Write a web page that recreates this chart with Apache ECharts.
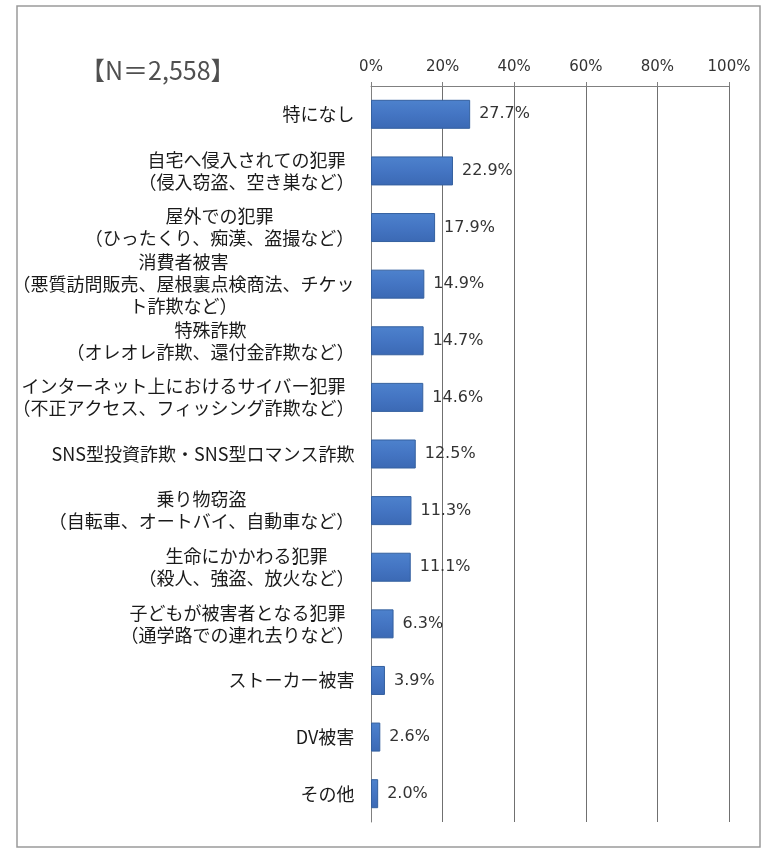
<!DOCTYPE html>
<html>
<head>
<meta charset="utf-8">
<script src="https://cdn.jsdelivr.net/npm/echarts@6/dist/echarts.min.js"></script>
<style>
html,body{margin:0;padding:0;background:#fff;}
#chart{width:764px;height:850px;}
</style>
</head>
<body>
<div id="chart"></div>
<script>
const categories = [
  '特になし',
  '自宅へ侵入されての犯罪\n（侵入窃盗、空き巣など）',
  '屋外での犯罪\n（ひったくり、痴漢、盗撮など）',
  '消費者被害\n（悪質訪問販売、屋根裏点検商法、チケッ\nト詐欺など）',
  '特殊詐欺\n（オレオレ詐欺、還付金詐欺など）',
  'インターネット上におけるサイバー犯罪\n（不正アクセス、フィッシング詐欺など）',
  'SNS型投資詐欺・SNS型ロマンス詐欺',
  '乗り物窃盗\n（自転車、オートバイ、自動車など）',
  '生命にかかわる犯罪\n（殺人、強盗、放火など）',
  '子どもが被害者となる犯罪\n（通学路での連れ去りなど）',
  'ストーカー被害',
  'DV被害',
  'その他'
];
const values = [27.7, 22.9, 17.9, 14.9, 14.7, 14.6, 12.5, 11.3, 11.1, 6.3, 3.9, 2.6, 2.0];
const xTicks = [0, 20, 40, 60, 80, 100];
const sampleLabel = '【N＝2,558】';

const catFont = '18px "Noto Sans CJK JP"';
const cv = document.createElement('canvas').getContext('2d');
cv.font = catFont;
const rich = {};
categories.forEach((c, i) => {
  const w = Math.max(...c.split('\n').map(l => cv.measureText(l).width));
  rich['c' + i] = {
    width: Math.ceil(w) + 1,
    align: 'center',
    fontSize: 18,
    lineHeight: 22,
    fontFamily: 'Noto Sans CJK JP',
    color: '#1a1a1a'
  };
});

const chart = echarts.init(document.getElementById('chart'), null, {renderer: 'canvas'});
chart.setOption({
  animation: false,
  backgroundColor: '#fff',
  graphic: [
    {
      type: 'rect',
      shape: {x: 17, y: 6, width: 743, height: 841},
      style: {fill: 'none', stroke: '#9a9a9a', lineWidth: 1.5},
      silent: true
    },
    {
      type: 'text',
      left: 80,
      top: 58,
      style: {
        text: sampleLabel,
        font: '25px "Noto Sans CJK JP"',
        fill: '#505050'
      }
    }
  ],
  grid: {left: 371, right: 35, top: 86, bottom: 28, containLabel: false},
  xAxis: {
    type: 'value',
    position: 'top',
    min: xTicks[0],
    max: xTicks[xTicks.length - 1],
    interval: 20,
    axisLine: {show: true, lineStyle: {color: '#808080', width: 1}},
    axisTick: {show: true, length: 4, lineStyle: {color: '#808080'}},
    splitLine: {show: true, lineStyle: {color: '#707070', width: 1}},
    axisLabel: {
      formatter: v => v + '%',
      fontFamily: 'DejaVu Sans',
      fontSize: 15,
      color: '#333',
      margin: 11
    }
  },
  yAxis: {
    type: 'category',
    inverse: true,
    data: categories,
    axisLine: {show: true, lineStyle: {color: '#808080', width: 1}},
    axisTick: {show: false},
    splitLine: {show: false},
    axisLabel: {
      margin: 16,
      interval: 0,
      formatter: (v, i) => v.split('\n').map(l => '{c' + i + '|' + l + '}').join('\n'),
      rich: rich
    }
  },
  series: [{
    type: 'bar',
    data: values,
    barWidth: 29,
    itemStyle: {
      color: new echarts.graphic.LinearGradient(0, 0, 0, 1, [
        {offset: 0, color: '#4d82cd'},
        {offset: 0.5, color: '#4475c3'},
        {offset: 1, color: '#3b69b4'}
      ]),
      borderColor: '#34609f',
      borderWidth: 1
    },
    label: {
      show: true,
      position: 'right',
      distance: 9,
      formatter: p => p.value.toFixed(1) + '%',
      fontFamily: 'DejaVu Sans',
      fontSize: 16,
      color: '#333'
    }
  }]
});
</script>
</body>
</html>
